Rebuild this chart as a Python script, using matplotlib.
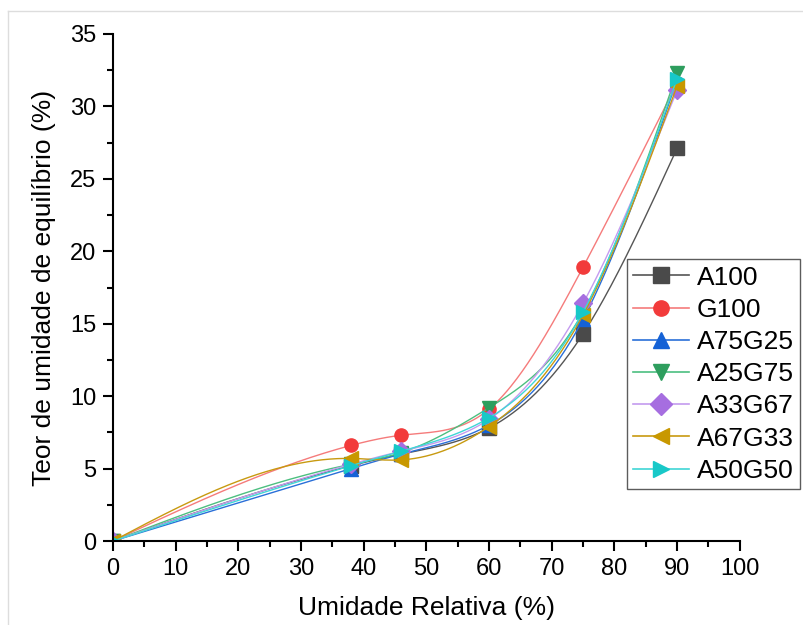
import numpy as np
import matplotlib.pyplot as plt
from matplotlib.lines import Line2D

plt.rcParams['font.family'] = ['Liberation Sans', 'DejaVu Sans']

ur = [0, 38, 46, 60, 75, 90]
series = ['A100', 'G100', 'A75G25', 'A25G75', 'A33G67', 'A67G33', 'A50G50']
a100 = [0, 5.2, 6.0, 7.8, 14.3, 27.1]
g100 = [0, 6.6, 7.3, 9.1, 18.9, 31.6]
a75g25 = [0, 5.0, 6.0, 8.0, 15.3, 31.8]
a25g75 = [0, 5.3, 6.1, 9.2, 15.8, 32.3]
a33g67 = [0, 5.3, 6.2, 8.4, 16.4, 31.1]
a67g33 = [0, 5.7, 5.6, 7.9, 15.6, 31.4]
a50g50 = [0, 5.2, 6.2, 8.5, 15.8, 31.9]
valores = [a100, g100, a75g25, a25g75, a33g67, a67g33, a50g50]

cores_m = ['#4a4a4a', '#f23b3b', '#1562d6', '#2e9e5e', '#a66ee0', '#c89800', '#18c8c8']
cores_l = ['#555555', '#f57b7b', '#2a6fd8', '#4cbf80', '#c49bef', '#c89a10', '#3fd6d6']
marcadores = ['s', 'o', '^', 'v', 'D', '<', '>']


def spline(x, y, n=300):
    # spline cubico natural
    x = np.asarray(x, float)
    y = np.asarray(y, float)
    k = len(x)
    h = np.diff(x)
    A = np.zeros((k, k))
    b = np.zeros(k)
    A[0, 0] = A[-1, -1] = 1
    for i in range(1, k - 1):
        A[i, i-1] = h[i-1]
        A[i, i] = 2 * (h[i-1] + h[i])
        A[i, i+1] = h[i]
        b[i] = 6 * ((y[i+1] - y[i]) / h[i] - (y[i] - y[i-1]) / h[i-1])
    M = np.linalg.solve(A, b)
    xs = np.linspace(x[0], x[-1], n)
    idx = np.clip(np.searchsorted(x, xs) - 1, 0, k - 2)
    x0, x1 = x[idx], x[idx+1]
    hh = x1 - x0
    ys = (M[idx] * (x1 - xs)**3 / (6*hh) + M[idx+1] * (xs - x0)**3 / (6*hh)
          + (y[idx] - M[idx]*hh**2/6) * (x1 - xs) / hh
          + (y[idx+1] - M[idx+1]*hh**2/6) * (xs - x0) / hh)
    return xs, ys


fig = plt.figure(figsize=(8.04, 6.25), dpi=100)
ax = fig.add_axes([0.1405, 0.1344, 0.7795, 0.8112])
# moldura clara (so topo e esquerda)
fig.lines.append(Line2D([0.010, 1.0], [0.983, 0.983], transform=fig.transFigure,
                        color='#dddddd', lw=1))
fig.lines.append(Line2D([0.010, 0.010], [0.0, 0.983], transform=fig.transFigure,
                        color='#dddddd', lw=1))

for nome, v, cm, cl, mk in zip(series, valores, cores_m, cores_l, marcadores):
    xs, ys = spline(ur, v)
    ax.plot(xs, ys, color=cl, lw=1)
    ax.plot(ur, v, linestyle='none', marker=mk, color=cm, ms=9.5)
    ax.plot([], [], color=cl, lw=1.2, marker=mk, mfc=cm, mec=cm, ms=11, label=nome)

ax.set_xlim(0, 100)
ax.set_ylim(0, 35)
ax.set_xticks(np.arange(0, 101, 10))
ax.set_xticks(np.arange(0, 101, 5), minor=True)
ax.set_yticks(np.arange(0, 36, 5))
ax.set_yticks(np.arange(0, 36, 2.5), minor=True)
ax.spines['top'].set_visible(False)
ax.spines['right'].set_visible(False)
for s in ['left', 'bottom']:
    ax.spines[s].set_linewidth(1.5)
ax.tick_params(which='major', direction='out', length=7, width=1.5, labelsize=17, pad=5)
ax.tick_params(which='minor', direction='out', length=4, width=1.5)
ax.set_xlabel('Umidade Relativa (%)', fontsize=19, labelpad=12)
ax.set_ylabel('Teor de umidade de equilíbrio (%)', fontsize=19, labelpad=10)

leg = ax.legend(loc='upper left', bbox_to_anchor=(0.82, 0.556), fontsize=19,
                frameon=True, fancybox=False, edgecolor='#333333',
                handlelength=2.1, labelspacing=0.31, borderpad=0.25,
                handletextpad=0.3, borderaxespad=0)
leg.get_frame().set_linewidth(1)

plt.savefig('out.png', dpi=100)
